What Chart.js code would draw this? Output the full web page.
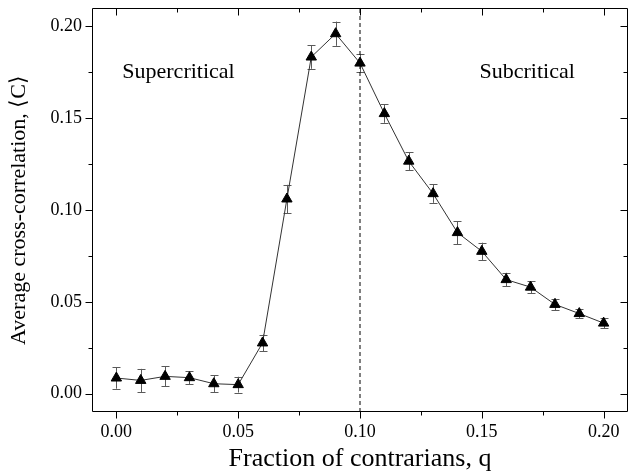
<!DOCTYPE html>
<html><head><meta charset="utf-8">
<script src="https://cdn.jsdelivr.net/npm/chart.js@4"></script>
<style>html,body{margin:0;padding:0;background:#fff}</style>
</head><body>
<canvas id="c" width="629" height="476"></canvas>
<script>
// ---- data ----
const qValues = [0.00,0.01,0.02,0.03,0.04,0.05,0.06,0.07,0.08,0.09,0.10,0.11,0.12,0.13,0.14,0.15,0.16,0.17,0.18,0.19,0.20];
const corrValues = [0.0085,0.0072,0.0094,0.0087,0.0054,0.0049,0.0276,0.1060,0.1833,0.1960,0.1800,0.1525,0.1266,0.1089,0.0877,0.0775,0.0621,0.0580,0.0486,0.0436,0.0384];
const corrErrors = [0.0058,0.0063,0.0055,0.0035,0.0045,0.0043,0.0046,0.0077,0.0064,0.0066,0.0050,0.0050,0.0048,0.0050,0.0063,0.0047,0.0037,0.0033,0.0032,0.0026,0.0028];
const xTickValues = [0.00,0.05,0.10,0.15,0.20];
const xMinorTicks = [0.025,0.075,0.125,0.175];
const yTickValues = [0.00,0.05,0.10,0.15,0.20];
const yMinorTicks = [0.025,0.075,0.125,0.175];
const xRange = [-0.01,0.21];
const yRange = [-0.01,0.21];
const criticalQ = 0.10;
const regionLabels = [
  {text:'Supercritical', x:0.0255, y:0.1717},
  {text:'Subcritical', x:0.1686, y:0.1717}
];
const xTitle = 'Fraction of contrarians, q';
const yTitle = 'Average cross-correlation, \u27E8C\u27E9';

Chart.defaults.font.family = "'Liberation Serif','Times New Roman',serif";
Chart.defaults.color = '#000';

const points = qValues.map((q,i)=>({x:q,y:corrValues[i]}));

const errorBarPlugin = {
  id:'errorBars',
  beforeDatasetsDraw(chart){
    const {ctx, scales:{x,y}} = chart;
    ctx.save();
    ctx.strokeStyle = '#5a5a5a';
    ctx.lineWidth = 1;
    qValues.forEach((q,i)=>{
      const px = Math.round(x.getPixelForValue(q))+0.5;
      const top = y.getPixelForValue(corrValues[i]+corrErrors[i]);
      const bot = y.getPixelForValue(corrValues[i]-corrErrors[i]);
      ctx.beginPath();
      ctx.moveTo(px,top); ctx.lineTo(px,bot);
      ctx.moveTo(px-4,Math.round(top)+0.5); ctx.lineTo(px+4,Math.round(top)+0.5);
      ctx.moveTo(px-4,Math.round(bot)+0.5); ctx.lineTo(px+4,Math.round(bot)+0.5);
      ctx.stroke();
    });
    ctx.restore();
  }
};

const framePlugin = {
  id:'frame',
  afterDraw(chart){
    const {ctx, chartArea:a, scales:{x,y}} = chart;
    ctx.save();
    ctx.strokeStyle = '#000';
    ctx.lineWidth = 1;
    const L = Math.round(a.left)+0.5, R = Math.round(a.right)-0.5, T = Math.round(a.top)+0.5, B = Math.round(a.bottom)-0.5;
    ctx.beginPath();
    ctx.rect(L,T,R-L,B-T);
    ctx.stroke();
    ctx.beginPath();
    const xt = (v,len)=>{
      const p = Math.round(x.getPixelForValue(v))+0.5;
      ctx.moveTo(p,B); ctx.lineTo(p,B+len);
      ctx.moveTo(p,T); ctx.lineTo(p,T+len);
    };
    const yt = (v,len)=>{
      const p = Math.round(y.getPixelForValue(v))+0.5;
      ctx.moveTo(L,p); ctx.lineTo(L-len,p);
      ctx.moveTo(R,p); ctx.lineTo(R-len,p);
    };
    xTickValues.forEach(v=>xt(v,7));
    xMinorTicks.forEach(v=>xt(v,4));
    yTickValues.forEach(v=>yt(v,7));
    yMinorTicks.forEach(v=>yt(v,4));
    ctx.stroke();
    // region labels
    ctx.fillStyle = '#000';
    ctx.font = "22px 'Liberation Serif','Times New Roman',serif";
    ctx.textAlign = 'center';
    ctx.textBaseline = 'alphabetic';
    regionLabels.forEach(l=>{
      ctx.fillText(l.text, x.getPixelForValue(l.x), y.getPixelForValue(l.y));
    });
    ctx.restore();
  }
};

const zeroPad = s=>{s.paddingLeft=0;s.paddingRight=0;s.paddingTop=0;s.paddingBottom=0;};

new Chart(document.getElementById('c'), {
  type:'scatter',
  data:{
    datasets:[
      {
        data:points,
        showLine:true,
        borderColor:'#333',
        borderWidth:1,
        pointStyle:'triangle',
        pointRadius:6,
        pointBackgroundColor:'#000',
        pointBorderColor:'#000',
        pointBorderWidth:1,
        tension:0,
        order:1
      },
      {
        data:[{x:criticalQ,y:yRange[0]},{x:criticalQ,y:yRange[1]}],
        showLine:true,
        borderColor:'#000',
        borderWidth:1,
        borderDash:[4,3],
        pointRadius:0,
        order:2
      }
    ]
  },
  options:{
    responsive:false,
    animation:false,
    devicePixelRatio:1,
    layout:{autoPadding:false, padding:{top:8,right:1,left:0,bottom:0}},
    plugins:{legend:{display:false},tooltip:{enabled:false}},
    scales:{
      x:{
        type:'linear', min:xRange[0], max:xRange[1],
        afterBuildTicks:s=>{s.ticks = xTickValues.map(v=>({value:v}));},
        afterFit:s=>{s.height = 64; zeroPad(s);},
        grid:{display:false, drawTicks:false},
        border:{display:false},
        ticks:{callback:v=>v.toFixed(2), font:{size:18}, color:'#000', padding:9, maxRotation:0, autoSkip:false},
        title:{display:true, text:xTitle, font:{size:26}, color:'#000', padding:{top:0,bottom:1}}
      },
      y:{
        type:'linear', min:yRange[0], max:yRange[1],
        afterBuildTicks:s=>{s.ticks = yTickValues.map(v=>({value:v}));},
        afterFit:s=>{s.width = 92; zeroPad(s);},
        grid:{display:false, drawTicks:false},
        border:{display:false},
        ticks:{callback:v=>v.toFixed(2), font:{size:18}, color:'#000', padding:10, autoSkip:false},
        title:{display:true, text:yTitle, font:{size:22}, color:'#000', padding:{top:6,bottom:0}}
      }
    }
  },
  plugins:[errorBarPlugin, framePlugin]
});
</script>
</body></html>
